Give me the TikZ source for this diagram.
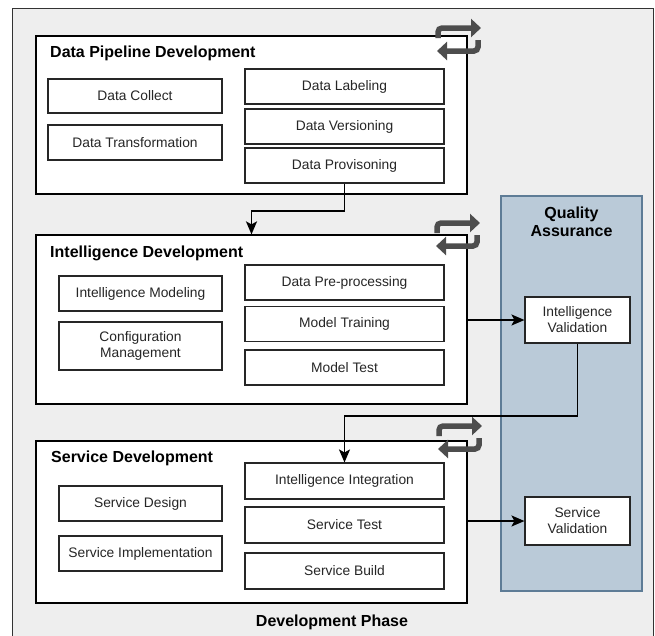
\documentclass[tikz,border=0pt]{standalone}
\usepackage{fontspec}
\setmainfont{Liberation Sans}
\usetikzlibrary{arrows.meta}
\definecolor{outerfill}{HTML}{EEEEEE}
\definecolor{qafill}{HTML}{BACAD8}
\definecolor{qadraw}{HTML}{5E7C96}
\definecolor{icongray}{HTML}{4D4D4D}
\definecolor{boxdraw}{HTML}{262626}
\begin{document}
\begin{tikzpicture}[x=1pt,y=-1pt,
  group/.style={draw=black, line width=1.2pt, fill=white, inner sep=0pt},
  item/.style={draw=boxdraw, line width=1.1pt, fill=white, inner sep=0pt, align=center,
    font=\fontsize{13.8}{16}\selectfont, text=black!85},
  ttl/.style={anchor=west, inner sep=0pt, font=\bfseries\fontsize{16}{18}\selectfont},
  conn/.style={draw=black, line width=1.9pt, -{Stealth[length=13pt,width=11pt,inset=3pt]}},
  cyc/.pic={
    \draw[icongray, line width=5.5pt, rounded corners=4pt, -{Triangle[length=10pt,width=18pt]}]
      (0,10) -- (0,0) -- (43,0);
    \draw[icongray, line width=5.5pt, rounded corners=4pt, -{Triangle[length=10pt,width=18pt]}]
      (40,12) -- (40,23) -- (-1,23);
  }]
\useasboundingbox (0,0) rectangle (655,635);
\clip (0,0) rectangle (655,635);
\fill[white] (0,0) rectangle (655,635);
\draw[fill=outerfill, draw=black!80, line width=1pt] (12,8) rectangle (653,650);

% Quality assurance lane
\node[draw=qadraw, fill=qafill, line width=1.1pt, minimum width=141pt, minimum height=395pt, inner sep=0pt] (qa) at (571.5,393.5) {};
\node[font=\bfseries\fontsize{16}{18}\selectfont, align=center, inner sep=0pt] (qat) at (571.5,222) {Quality\\Assurance};

% Data pipeline
\node[group, minimum width=431pt, minimum height=158pt] (dp) at (251.5,115) {};
\node[ttl] (dpt) at (50,53) {Data Pipeline Development};
\node[item, minimum width=174pt, minimum height=34pt] (dc) at (135,96) {Data Collect};
\node[item, minimum width=174pt, minimum height=35pt] (dt) at (135,142.5) {Data Transformation};
\node[item, minimum width=199pt, minimum height=35pt] (dl) at (344.5,86.5) {Data Labeling};
\node[item, minimum width=199pt, minimum height=35pt] (dv) at (344.5,126.5) {Data Versioning};
\node[item, minimum width=199pt, minimum height=35pt] (dprov) at (344.5,165.5) {Data Provisoning};

% Intelligence development
\node[group, minimum width=431pt, minimum height=169pt] (id) at (251.5,319.5) {};
\node[ttl] (idt) at (50,253) {Intelligence Development};
\node[item, minimum width=163pt, minimum height=35pt] (im) at (140.5,293.5) {Intelligence Modeling};
\node[item, minimum width=163pt, minimum height=48pt] (cm) at (140.5,346) {Configuration\\Management};
\node[item, minimum width=199pt, minimum height=35pt] (dpp) at (344.5,282.5) {Data Pre-processing};
\node[item, minimum width=199pt, minimum height=35pt] (mt) at (344.5,324) {Model Training};
\node[item, minimum width=199pt, minimum height=35pt] (mte) at (344.5,367.5) {Model Test};

% Service development
\node[group, minimum width=431pt, minimum height=162pt] (sd) at (251.5,522) {};
\node[ttl] (sdt) at (51,458) {Service Development};
\node[item, minimum width=163pt, minimum height=35pt] (sdes) at (140.5,503.5) {Service Design};
\node[item, minimum width=163pt, minimum height=35pt] (simp) at (140.5,553.5) {Service Implementation};
\node[item, minimum width=199pt, minimum height=36pt] (ii) at (344.5,481) {Intelligence Integration};
\node[item, minimum width=199pt, minimum height=36pt] (st) at (344.5,525) {Service Test};
\node[item, minimum width=199pt, minimum height=36pt] (sb) at (344.5,571) {Service Build};

% Validation nodes
\node[item, minimum width=105pt, minimum height=46pt] (iv) at (577.5,320) {Intelligence\\Validation};
\node[item, minimum width=105pt, minimum height=48pt] (sv) at (577.5,521) {Service\\Validation};

% cycle icons
\pic at (438,28) {cyc};
\pic at (437,223) {cyc};
\pic at (439,426) {cyc};

% connectors
\draw[conn] (dprov.south) -- ++(0,27) -| (id.north);
\draw[conn] (id.east |- iv.west) -- (iv.west);
\draw[conn] (iv.south) -- ++(0,72) -| (ii.north);
\draw[conn] (sd.east |- sv.west) -- (sv.west);

\node[font=\bfseries\fontsize{16}{18}\selectfont, inner sep=0pt] (phase) at (332,622) {Development Phase};
\end{tikzpicture}
\end{document}
